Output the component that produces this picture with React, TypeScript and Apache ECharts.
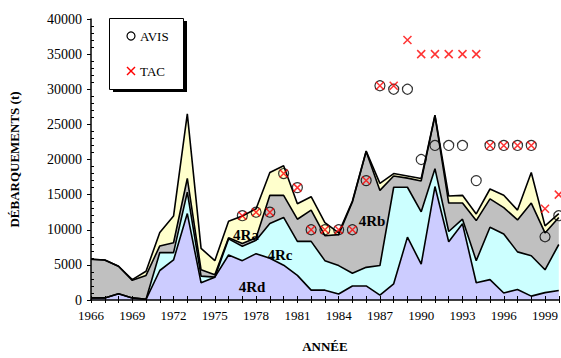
import React, { useEffect, useRef } from "react";
import * as echarts from "echarts";

const years: string[] = [];
for (let y = 1966; y <= 2000; y++) years.push(String(y));

// landings by zone (t), non-cumulative
const rd = [300, 300, 900, 300, 100, 4200, 5700, 12300, 2450, 3250, 6400, 5600, 6600, 5950, 4950, 3500, 1400, 1400, 850, 2000, 2000, 700, 2300, 8950, 5100, 16150, 8300, 10850, 2450, 2900, 1000, 1500, 550, 1050, 1350];
const rc = [0, 0, 0, 0, 0, 2550, 1050, 3050, 950, 0, 2300, 2050, 1900, 4950, 6800, 4850, 6950, 4200, 4050, 1800, 2650, 4200, 13750, 7100, 7450, 2550, 1450, 650, 3150, 7450, 8400, 5350, 5750, 3250, 6550];
const rb = [5500, 5400, 3900, 2500, 3400, 950, 1400, 1950, 900, 350, 150, 400, 350, 4000, 3150, 3150, 4450, 3550, 4400, 10150, 16500, 10700, 1600, 1300, 4400, 7550, 4050, 2300, 5700, 4050, 3750, 4550, 7500, 5250, 3850];
const ra = [0, 0, 0, 100, 600, 1900, 3800, 9200, 3050, 2000, 2350, 3900, 4150, 3250, 4200, 2200, 1900, 1850, 250, 150, 50, 1000, 350, 300, 350, 50, 1000, 1100, 950, 1400, 1750, 1400, 4350, 1000, 550];

const N = null;
const avis = [N, N, N, N, N, N, N, N, N, N, N, 12000, 12500, 12500, 18000, 16000, 10000, 10000, 10000, 10000, 17000, 30500, 30000, 30000, 20000, 22000, 22000, 22000, 17000, 22000, 22000, 22000, 22000, 9000, 12000];
const tac = [N, N, N, N, N, N, N, N, N, N, N, 12000, 12500, 12500, 18000, 16000, 10000, 10000, 10000, 10000, 17000, 30500, 30500, 37000, 35000, 35000, 35000, 35000, 35000, 22000, 22000, 22000, 22000, 13000, 15000];

const yTicks = { min: 0, max: 40000, interval: 5000 };

const FONT = "'Liberation Serif', 'Times New Roman', Times, serif";

export default function App() {
  const ref = useRef<HTMLDivElement>(null);
  useEffect(() => {
    const chart = echarts.init(ref.current!, null, { renderer: "svg" });
    const area = (name: string, data: number[], color: string) => ({
      name,
      type: "line",
      stack: "total",
      data,
      symbol: "none",
      lineStyle: { color: "#000", width: 1.6 },
      areaStyle: { color, opacity: 1 },
      z: 2,
    });
    const txt = (text: string, x: number, y: number, bold = false, size = 13, align = "left") => ({
      type: "text",
      x,
      y,
      z: 12,
      style: {
        text,
        fontFamily: FONT,
        fontSize: size,
        fontWeight: bold ? "bold" : "normal",
        fill: "#000",
        align,
        verticalAlign: "middle",
      },
    });
    chart.setOption({
      animation: false,
      backgroundColor: "#fff",
      textStyle: { fontFamily: FONT },
      grid: { left: 90, right: 1, top: 19, bottom: 52 },
      xAxis: [
        {
          type: "category",
          data: years,
          boundaryGap: false,
          name: "ANNÉE",
          nameLocation: "middle",
          nameGap: 40,
          nameTextStyle: { fontFamily: FONT, fontSize: 13, fontWeight: "bold", color: "#000" },
          axisLine: { lineStyle: { color: "#000", width: 1.5 } },
          axisTick: { interval: 0, length: 3, lineStyle: { color: "#000" } },
          axisLabel: { interval: 2, color: "#000", fontFamily: FONT, fontSize: 13, margin: 9 },
          splitLine: { show: false },
          z: 10,
        },
        {
          type: "category",
          data: years,
          boundaryGap: false,
          position: "bottom",
          axisLine: { show: false },
          axisTick: { interval: 0, inside: true, length: 4, lineStyle: { color: "#000" } },
          axisLabel: { show: false },
          splitLine: { show: false },
          z: 10,
        },
      ],
      yAxis: [
        {
          type: "value",
          min: yTicks.min,
          max: yTicks.max,
          interval: yTicks.interval,
          name: "DÉBARQUEMENTS (t)",
          nameLocation: "middle",
          nameGap: 70,
          nameTextStyle: { fontFamily: FONT, fontSize: 13, fontWeight: "bold", color: "#000" },
          axisLine: { show: true, lineStyle: { color: "#000", width: 1.5 } },
          axisTick: { show: true, length: 4, lineStyle: { color: "#000" } },
          axisLabel: { color: "#000", fontFamily: FONT, fontSize: 14, margin: 9, formatter: (v: number) => String(v) },
          splitLine: { show: false },
          z: 10,
        },
        {
          type: "value",
          min: yTicks.min,
          max: yTicks.max,
          interval: yTicks.interval,
          position: "left",
          axisLine: { show: false },
          axisTick: { show: false, inside: true },
          minorTick: { show: true, splitNumber: 5, length: 3, lineStyle: { color: "#000" } },
          axisLabel: { show: false },
          splitLine: { show: false },
          z: 10,
        },
      ],
      series: [
        area("4Rd", rd, "#CCCCFF"),
        area("4Rc", rc, "#CCFFFF"),
        area("4Rb", rb, "#C0C0C0"),
        area("4Ra", ra, "#FFFFCC"),
        {
          name: "AVIS",
          type: "scatter",
          data: avis,
          symbol: "circle",
          symbolSize: 10,
          itemStyle: { color: "rgba(0,0,0,0)", borderColor: "#000", borderWidth: 1.2 },
          z: 5,
        },
        {
          name: "TAC",
          type: "scatter",
          data: tac,
          symbol: "path://M0,0L10,10M10,0L0,10",
          symbolSize: 8,
          itemStyle: { color: "rgba(0,0,0,0)", borderColor: "#FF0000", borderWidth: 1.5 },
          z: 6,
        },
      ],
      graphic: [
        { type: "rect", shape: { x: 113, y: 21, width: 74, height: 71 }, style: { fill: "#000" }, z: 10 },
        { type: "rect", shape: { x: 109.5, y: 18.5, width: 74, height: 71 }, style: { fill: "#fff", stroke: "#000", lineWidth: 1 }, z: 11 },
        { type: "circle", shape: { cx: 131, cy: 36, r: 4 }, style: { fill: "none", stroke: "#000", lineWidth: 1.2 }, z: 12 },
        txt("AVIS", 140, 36),
        { type: "line", shape: { x1: 127, y1: 67, x2: 135, y2: 75 }, style: { stroke: "#FF0000", lineWidth: 1.5 }, z: 12 },
        { type: "line", shape: { x1: 135, y1: 67, x2: 127, y2: 75 }, style: { stroke: "#FF0000", lineWidth: 1.5 }, z: 12 },
        txt("TAC", 140, 71),
        txt("4Ra", 246, 235, true, 15, "center"),
        txt("4Rc", 280, 255, true, 15, "center"),
        txt("4Rd", 252, 287, true, 15, "center"),
        txt("4Rb", 372, 221, true, 15, "center"),
      ],
    });
    return () => chart.dispose();
  }, []);
  return <div ref={ref} style={{ position: "fixed", left: 0, top: 0, width: 561, height: 358 }} />;
}
